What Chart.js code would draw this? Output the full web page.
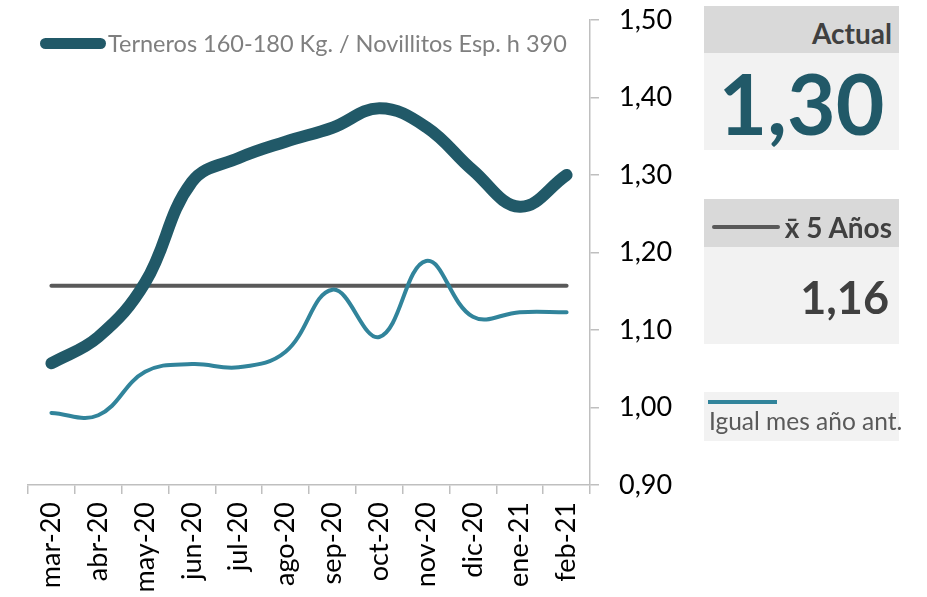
<!DOCTYPE html>
<html>
<head>
<meta charset="utf-8">
<script src="https://cdn.jsdelivr.net/npm/chart.js"></script>
<style>
	body { margin: 0; background: #fff; font-family: Lato, "Open Sans", sans-serif; }
	#wrap { position: relative; width: 927px; height: 597px; }
	canvas { position: absolute; left: 0; top: 0; }
	.box { position: absolute; left: 704px; width: 195px; }
	.head { background: #d9d9d9; color: #404040; font-weight: bold; font-size: 28px; text-align: right; }
	.val { background: #f2f2f2; font-weight: bold; }
	.legend { position: absolute; left: 40px; top: 29px; color: #7f7f7f; font-size: 23.5px; white-space: nowrap; }
	.swatch { position: absolute; border-radius: 6px; }
</style>
</head>
<body>
<div id="wrap">
	<canvas id="chart" width="927" height="597"></canvas>

	<div class="legend">
		<span class="swatch" style="left:0;top:9px;width:66px;height:11px;background:#215968"></span>
		<span style="margin-left:68px">Terneros 160-180 Kg. / Novillitos Esp. h 390</span>
	</div>

	<div class="box head" style="top:6px;height:47px;line-height:54px;padding-right:7px;width:188px">Actual</div>
	<div class="box val" style="top:53px;height:97px;color:#215968;font-size:84px;line-height:100px;text-align:center" id="actual"></div>

	<div class="box head" style="top:199px;height:48px;line-height:56px;padding-right:7px;width:188px">
		<span class="swatch" style="left:8px;top:26px;width:68px;height:4px;background:#595959;border-radius:2px"></span>x̄ 5 Años
	</div>
	<div class="box val" style="top:247px;height:97px;color:#404040;font-size:45px;line-height:100px;text-align:right;padding-right:10px;width:185px" id="avg"></div>

	<div class="box val" style="top:392px;height:49px;font-weight:normal;color:#595959;font-size:24.5px">
		<span class="swatch" style="left:4px;top:8px;width:69px;height:4px;background:#31849B;border-radius:0"></span>
		<span style="position:absolute;left:5px;top:14px;white-space:nowrap">Igual mes año ant.</span>
	</div>
</div>

<script>
// data
var categories = ["mar-20", "abr-20", "may-20", "jun-20", "jul-20", "ago-20", "sep-20", "oct-20", "nov-20", "dic-20", "ene-21", "feb-21"];
var actualValues = [1.057, 1.091, 1.161, 1.291, 1.322, 1.343, 1.361, 1.386, 1.362, 1.306, 1.259, 1.300];
var lastYearValues = [0.993, 0.990, 1.046, 1.056, 1.052, 1.072, 1.152, 1.091, 1.189, 1.117, 1.123, 1.123];
var avg5Years = [1.157, 1.157, 1.157, 1.157, 1.157, 1.157, 1.157, 1.157, 1.157, 1.157, 1.157, 1.157];
var yTicks = [0.9, 1.0, 1.1, 1.2, 1.3, 1.4, 1.5];

function fmt(v) {
	return v.toFixed(2).replace(".", ",");
}

document.getElementById("actual").textContent = fmt(actualValues[actualValues.length - 1]);
document.getElementById("avg").textContent = fmt(avg5Years[0]);

var axisColor = "#bfbfbf";
var font = "Lato, 'Open Sans', sans-serif";

var ctx = document.getElementById("chart").getContext("2d");
new Chart(ctx, {
	type: "line",
	data: {
		labels: categories,
		datasets: [
			{
				label: "Terneros 160-180 Kg. / Novillitos Esp. h 390",
				data: actualValues,
				borderColor: "#215968",
				borderWidth: 12,
				borderCapStyle: "round",
				tension: 0.4,
				pointRadius: 0,
			},
			{
				label: "Igual mes año ant.",
				data: lastYearValues,
				borderColor: "#31849B",
				borderWidth: 4,
				borderCapStyle: "round",
				tension: 0.4,
				pointRadius: 0,
			},
			{
				label: "x̄ 5 Años",
				data: avg5Years,
				borderColor: "#595959",
				borderWidth: 4,
				borderCapStyle: "round",
				pointRadius: 0,
			},
		],
	},
	options: {
		responsive: false,
		animation: false,
		devicePixelRatio: 1,
		layout: { padding: { left: 28, top: 20, right: 0, bottom: 0 } },
		plugins: { legend: { display: false }, tooltip: { enabled: false } },
		scales: {
			x: {
				offset: true,
				grid: { offset: true, drawOnChartArea: false, tickLength: 9, color: axisColor, lineWidth: 1.5 },
				border: { color: axisColor, width: 1.5 },
				ticks: { color: "#000", font: { family: font, size: 27 }, minRotation: 90, maxRotation: 90, padding: 8 },
				afterFit: function (s) { s.height = 112; },
			},
			y: {
				position: "right",
				min: 0.9,
				max: 1.5,
				afterBuildTicks: function (s) { s.ticks = yTicks.map(function (v) { return { value: v }; }); },
				grid: { drawOnChartArea: false, tickLength: 9, color: axisColor, lineWidth: 1.5 },
				border: { color: axisColor, width: 1.5 },
				ticks: { color: "#000", font: { family: font, size: 27 }, padding: 20, callback: function (v) { return fmt(v); } },
				afterFit: function (s) { s.width = 337; s.paddingTop = 0; s.paddingBottom = 0; },
			},
		},
	},
});
</script>
</body>
</html>
